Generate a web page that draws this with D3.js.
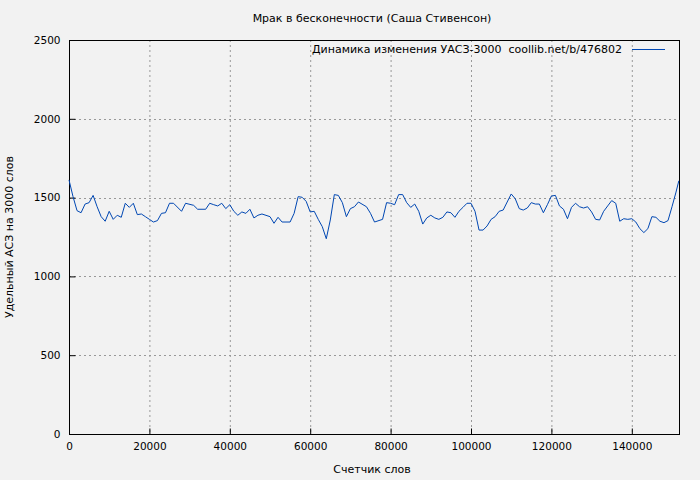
<!DOCTYPE html>
<html><head><meta charset="utf-8">
<script src="https://cdn.jsdelivr.net/npm/d3@7"></script>
<style>body{margin:0;background:#f2f2f2}svg{display:block}text{font-family:"DejaVu Sans",sans-serif;font-size:11px;fill:#000;white-space:pre}</style>
</head><body><svg width="700" height="480"></svg>
<script>
const words=[0,1,2,3,4,5,6,7,8,9,10,11,12,13,14,15,16,17,18,19,20,21,22,23,24,25,26,28,29,31,32,34,35,36,37,38,39,40,41,42,43,44,45,46,47,48,50,51,52,53,55,56,57,58,59,60,61,62,63,64,65,66,67,68,69,70,71,72,74,75,76,78,79,80,81,82,83,84,85,86,87,88,89,90,91,92,93,94,95,96,97,98,99,100,101,102,103,104,105,106,107,108,109,110,111,112,113,114,115,116,117,118,119,120,121,122,123,124,125,126,127,128,129,130,131,132,133,134,135,136,137,138,139,140,141,142,143,144,145,146,147,148,149,150,151,151.7].map(d=>d*1000);
const values=[1612,1506,1417,1404,1459,1468,1514,1442,1379,1350,1413,1362,1388,1375,1464,1438,1464,1392,1396,1379,1362,1345,1354,1400,1404,1464,1464,1413,1464,1451,1426,1426,1464,1455,1447,1464,1430,1455,1413,1388,1409,1400,1426,1371,1388,1396,1379,1337,1375,1345,1345,1400,1506,1502,1476,1409,1413,1362,1316,1239,1358,1519,1514,1468,1379,1430,1442,1472,1442,1400,1345,1362,1468,1464,1455,1519,1519,1468,1438,1459,1413,1332,1371,1388,1371,1362,1375,1409,1404,1375,1413,1438,1464,1464,1413,1294,1294,1320,1362,1379,1413,1421,1472,1523,1493,1430,1421,1434,1468,1459,1459,1404,1455,1510,1514,1447,1426,1366,1438,1464,1442,1434,1442,1409,1362,1358,1413,1447,1481,1464,1350,1366,1362,1366,1345,1303,1278,1303,1379,1375,1350,1341,1354,1442,1535,1607];
const xTicks=[0,20000,40000,60000,80000,100000,120000,140000];
const yTicks=[0,500,1000,1500,2000,2500];
const title="Мрак в бесконечности (Саша Стивенсон)";
const legend="Динамика изменения УАСЗ-3000  coollib.net/b/476802";

const svg=d3.select("svg");
const L=69,R=679,T=40,B=434;
const x=d3.scaleLinear().domain([0,151740]).range([L,R]);
const y=d3.scaleLinear().domain([0,2500]).range([B,T]);
const g=svg.append("g");
g.selectAll(".gx").data(xTicks.slice(1)).join("line").attr("x1",d=>x(d)+.5).attr("x2",d=>x(d)+.5).attr("y1",T).attr("y2",B).attr("stroke","#999").attr("stroke-dasharray","2,3");
g.selectAll(".gy").data(yTicks.slice(1,-1)).join("line").attr("y1",d=>Math.round(y(d))+.5).attr("y2",d=>Math.round(y(d))+.5).attr("x1",L).attr("x2",R).attr("stroke","#999").attr("stroke-dasharray","2,3");
svg.append("rect").attr("x",L+.5).attr("y",T+.5).attr("width",R-L).attr("height",B-T).attr("fill","none").attr("stroke","#000");
svg.append("g").attr("transform",`translate(0,${B+.5})`).call(d3.axisBottom(x).tickValues(xTicks).tickSize(-6).tickPadding(8).tickFormat(d3.format("d"))).call(a=>a.select(".domain").remove()).selectAll("text").style("font-size","10.5px");
svg.append("g").attr("transform",`translate(${L+.5},0)`).call(d3.axisLeft(y).tickValues(yTicks).tickSize(-6).tickPadding(9).tickFormat(d3.format("d"))).call(a=>a.select(".domain").remove()).selectAll("text").style("font-size","10.5px");
svg.selectAll(".tick line").attr("stroke","#000");
svg.append("path").datum(words.map((w,i)=>[w,values[i]])).attr("fill","none").attr("stroke","#0047b3").attr("stroke-width",1).attr("d",d3.line().x(d=>x(d[0])).y(d=>y(d[1])));
svg.append("text").attr("x",372).attr("y",22).attr("text-anchor","middle").text(title);
svg.append("text").attr("x",622).attr("y",53).attr("text-anchor","end").text(legend);
svg.append("line").attr("x1",632).attr("x2",665).attr("y1",49.5).attr("y2",49.5).attr("stroke","#0047b3");
svg.append("text").attr("x",372).attr("y",473).attr("text-anchor","middle").text("Счетчик слов");
svg.append("text").attr("transform","translate(13,237) rotate(-90)").attr("text-anchor","middle").text("Удельный АСЗ на 3000 слов");
</script></body></html>
